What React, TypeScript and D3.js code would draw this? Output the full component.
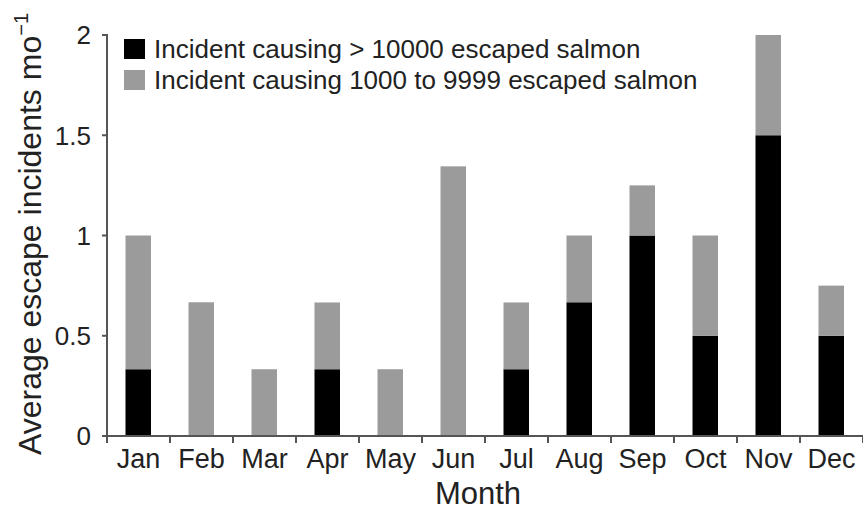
import React from "react";
import * as d3 from "d3";

const months = ["Jan","Feb","Mar","Apr","May","Jun","Jul","Aug","Sep","Oct","Nov","Dec"];
const large = [0.333,0,0,0.333,0,0,0.333,0.667,1.0,0.5,1.5,0.5];
const medium = [0.667,0.667,0.333,0.333,0.333,1.345,0.333,0.333,0.25,0.5,0.5,0.25];
const yTicks = [0,0.5,1,1.5,2];
const yTickLabels = ["0","0.5","1","1.5","2"];
const legendLabels = ["Incident causing > 10000 escaped salmon","Incident causing 1000 to 9999 escaped salmon"];
const colors = ["#000000","#9b9b9b"];

const W = 863, H = 512;
const font = "'Liberation Sans', Arial, Helvetica, sans-serif";

export default function App() {
  const xb = d3.scaleBand<string>().domain(months).range([107, 863]);
  const y = d3.scaleLinear().domain([0, 2]).range([436, 35]);
  const rows = months.map((m, i) => ({ month: m, large: large[i], medium: medium[i] }));
  const stack = d3.stack<any>().keys(["large", "medium"])(rows);
  const axisColor = "#555";
  return (
    <svg width={W} height={H} style={{ position: "absolute", left: 0, top: 0, background: "#fff" }} fontFamily={font}>
      {stack.map((s, si) => (
        <g key={si} fill={colors[si]}>
          {s.map((d, i) => (
            d[1] - d[0] > 0 ? (
              <rect key={i} x={xb(months[i])! + (xb.bandwidth() - 25) / 2 - 0.5} width={25.5}
                y={y(d[1])} height={y(d[0]) - y(d[1])} />
            ) : null
          ))}
        </g>
      ))}
      {/* y axis */}
      <line x1={107} x2={107} y1={y(2) - 1} y2={437} stroke={axisColor} strokeWidth={2} />
      {yTicks.map((t, i) => (
        <g key={i}>
          <line x1={102} x2={107} y1={y(t)} y2={y(t)} stroke={axisColor} strokeWidth={2} />
          <text x={91} y={y(t)} dy="0.36em" textAnchor="end" fontSize={26} fill="#222">{yTickLabels[i]}</text>
        </g>
      ))}
      {/* x axis */}
      <line x1={106} x2={863} y1={436} y2={436} stroke={axisColor} strokeWidth={2} />
      {months.map((m, i) => (
        <g key={m}>
          <line x1={xb(m)! + xb.bandwidth()} x2={xb(m)! + xb.bandwidth()} y1={436} y2={443} stroke={axisColor} strokeWidth={2} />
          <text x={xb(m)! + xb.bandwidth() / 2} y={468} textAnchor="middle" fontSize={27} fill="#222">{m}</text>
        </g>
      ))}
      <line x1={107} x2={107} y1={436} y2={443} stroke={axisColor} strokeWidth={2} />
      <text x={478} y={504} textAnchor="middle" fontSize={31} fill="#222">Month</text>
      <text transform={`translate(41,${(458 + 10) / 2}) rotate(-90)`} textAnchor="middle" fontSize={32} fill="#222">
        Average escape incidents mo<tspan dy="-13" fontSize={20}>−1</tspan>
      </text>
      {/* legend */}
      {legendLabels.map((l, i) => (
        <g key={i}>
          <rect x={124} y={39 + i * 31} width={21} height={20} fill={colors[i]} />
          <text x={154} y={58 + i * 31} fontSize={26} fill="#222">{l}</text>
        </g>
      ))}
    </svg>
  );
}
